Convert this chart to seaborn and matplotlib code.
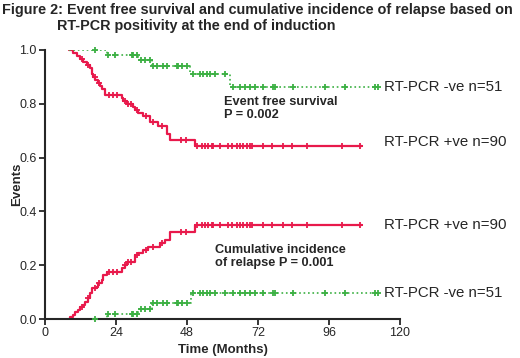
import numpy as np
import pandas as pd
import matplotlib
matplotlib.use('Agg')
import matplotlib.pyplot as plt
import seaborn as sns

# step curves (time in months, value after each step)
red_efs_t = [8.0, 9.6, 10.7, 11.8, 13.0, 14.1, 15.2, 15.8, 16.3, 17.0, 18.0, 18.6, 19.2, 20.3,
             25.9, 26.5, 27.6, 29.9, 30.4, 31.5, 33.2, 35.5, 38.3, 41.1, 42.3, 50.7, 107.0]
red_efs_s = [1.0, 0.988, 0.977, 0.966, 0.955, 0.944, 0.933, 0.911, 0.899, 0.888, 0.877, 0.866, 0.855, 0.833,
             0.822, 0.811, 0.799, 0.788, 0.777, 0.766, 0.755, 0.733, 0.719, 0.688, 0.665, 0.643, 0.643]

red_cir_t = [8.0, 8.6, 9.6, 10.1, 11.3, 11.8, 13.0, 13.5, 14.6, 15.2, 15.8, 17.5, 18.0, 19.2, 19.7, 20.9,
             25.9, 27.0, 27.6, 30.4, 31.5, 33.2, 34.9, 38.9, 40.6, 42.3, 50.7, 107.0]
red_cir_c = [0.0, 0.009, 0.015, 0.027, 0.033, 0.046, 0.052, 0.064, 0.077, 0.095, 0.114, 0.120, 0.133, 0.145, 0.164, 0.176,
             0.188, 0.201, 0.213, 0.238, 0.244, 0.257, 0.269, 0.281, 0.294, 0.325, 0.349, 0.349]

green_efs_t = [8.0, 20.8, 31.5, 36.0, 49.0, 62.5, 112.7]
green_efs_s = [1.0, 0.980, 0.961, 0.941, 0.910, 0.862, 0.862]

green_cir_t = [8.0, 20.9, 31.5, 36.0, 49.3, 112.7]
green_cir_c = [0.0, 0.020, 0.039, 0.059, 0.098, 0.098]

# censored times
red_cens = [12.5, 14.6, 16.9, 18.3, 21.5, 23.0, 24.5, 27.0, 28.2, 29.0, 31.0, 34.0, 36.5, 39.5, 46.0, 47.5,
            51.3, 53.0, 54.1, 55.2, 56.4, 56.9, 59.2, 61.9, 63.1, 64.8, 65.9, 67.0, 68.2, 69.3, 69.9,
            73.8, 76.6, 80.6, 83.4, 88.5, 100.3, 106.5]
green_cens = [16.9, 21.4, 23.7, 29.4, 29.8, 31.1, 32.6, 33.7, 35.4, 36.6, 37.9, 40.0, 41.2, 44.5, 45.0, 46.3,
              48.0, 50.0, 52.4, 53.4, 54.8, 55.8, 57.5, 60.9, 63.6, 65.9, 67.6, 69.3, 71.0, 73.8, 77.2,
              77.7, 83.9, 94.7, 101.4, 111.6, 112.7]

x_ticks = [0, 24, 48, 72, 96, 120]
y_ticks = [0.0, 0.2, 0.4, 0.6, 0.8, 1.0]

RED = '#e8194b'
GREEN = '#3cb043'

sns.set_style('ticks')
plt.rcParams['font.family'] = ['Liberation Sans', 'DejaVu Sans']

fig = plt.figure(figsize=(5.2, 3.58), dpi=100)
ax = fig.add_axes([45 / 520, 39 / 358, 355 / 520, 269 / 358])


def step_at(times, vals, cens):
    idx = np.searchsorted(times, cens, side='right') - 1
    return np.array(vals)[np.clip(idx, 0, len(vals) - 1)]


curves = [
    (red_efs_t, red_efs_s, red_cens, RED, '-', 1.6),
    (red_cir_t, red_cir_c, red_cens, RED, '-', 1.6),
    (green_efs_t, green_efs_s, green_cens, GREEN, ':', 1.2),
    (green_cir_t, green_cir_c, green_cens, GREEN, ':', 1.2),
]

for t, v, cens, col, ls, lw in curves:
    df = pd.DataFrame({'t': t, 'v': v})
    sns.lineplot(data=df, x='t', y='v', ax=ax, color=col, linestyle=ls, linewidth=lw,
                 drawstyle='steps-post', estimator=None, sort=False)
    cdf = pd.DataFrame({'t': cens, 'v': step_at(t, v, cens)})
    sns.scatterplot(data=cdf, x='t', y='v', ax=ax, color=col, marker='+', s=22,
                    linewidth=1.3, clip_on=False, zorder=3)

ax.set_xlim(0, 120)
ax.set_ylim(0, 1.0)
ax.set_xticks(x_ticks)
ax.set_yticks(y_ticks)
ax.set_xticklabels([str(x) for x in x_ticks])
ax.set_yticklabels([f'{y:.1f}' for y in y_ticks])
ax.tick_params(axis='both', labelsize=9, length=4, width=1.3, direction='out', pad=2)
for sp in ['left', 'bottom']:
    ax.spines[sp].set_linewidth(1.5)
sns.despine(ax=ax)

ax.set_xlabel('Time (Months)', fontsize=9.5, fontweight='bold', labelpad=3)
ax.set_ylabel('Events', fontsize=9.5, fontweight='bold')
ax.yaxis.set_label_coords(-0.062, 0.5)

# series labels on the right
lab_kw = dict(fontsize=10.8, va='center', ha='left', clip_on=False)
ax.text(114.5, 0.862, 'RT-PCR -ve n=51', **lab_kw)
ax.text(114.5, 0.658, 'RT-PCR +ve n=90', **lab_kw)
ax.text(114.5, 0.349, 'RT-PCR +ve n=90', **lab_kw)
ax.text(114.5, 0.098, 'RT-PCR -ve n=51', **lab_kw)

ax.text(60.5, 0.782, 'Event free survival\nP = 0.002', fontsize=9.2, fontweight='bold',
        va='center', ha='left', linespacing=1.1)
ax.text(57.5, 0.232, 'Cumulative incidence\nof relapse P = 0.001', fontsize=9.2, fontweight='bold',
        va='center', ha='left', linespacing=1.1)

fig.text(2 / 520, 1 - 10 / 358, 'Figure 2: Event free survival and cumulative incidence of relapse based on',
         fontsize=10.4, fontweight='bold', va='center', ha='left')
fig.text(57 / 520, 1 - 26 / 358, 'RT-PCR positivity at the end of induction',
         fontsize=10.4, fontweight='bold', va='center', ha='left')

fig.savefig('out.png', dpi=100, facecolor='white')
